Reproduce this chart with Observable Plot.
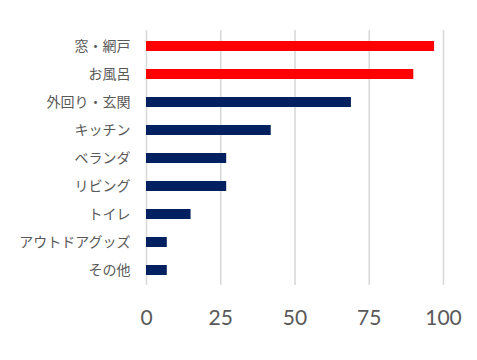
<!DOCTYPE html>
<html>
<head>
<meta charset="utf-8">
<script src="https://cdn.jsdelivr.net/npm/d3@7"></script>
<script src="https://cdn.jsdelivr.net/npm/@observablehq/plot@0.6"></script>
<style>
  html, body { margin: 0; padding: 0; background: #fff; }
</style>
</head>
<body>
<div id="chart"></div>
<script>
const categories = ["窓・網戸", "お風呂", "外回り・玄関", "キッチン", "ベランダ", "リビング", "トイレ", "アウトドアグッズ", "その他"];
const values = [97, 90, 69, 42, 27, 27, 15, 7, 7];
const highlighted = ["窓・網戸", "お風呂"];
const xTicks = [0, 25, 50, 75, 100];

const data = categories.map((c, i) => ({
  category: c,
  value: values[i],
  group: highlighted.includes(c) ? "highlight" : "normal"
}));

const chart = Plot.plot({
  width: 477,
  height: 360,
  marginLeft: 146,
  marginRight: 34,
  marginTop: 30,
  marginBottom: 75,
  style: { background: "#fff", overflow: "visible" },
  x: { domain: [0, 100], ticks: xTicks, label: null },
  y: { domain: categories, paddingInner: 0.65, paddingOuter: 0.325, label: null },
  color: { domain: ["highlight", "normal"], range: ["#ff0000", "#002060"] },
  marks: [
    Plot.gridX(xTicks, { stroke: "#d9d9d9", strokeOpacity: 1, strokeWidth: 1.6 }),
    Plot.barX(data, { x: "value", y: "category", fill: "group" }),
    Plot.axisX({
      ticks: xTicks,
      tickSize: 0,
      tickPadding: 25,
      fontSize: 21,
      fontFamily: "Lato, 'Open Sans', sans-serif",
      fill: "#595959",
      label: null
    }),
    Plot.axisY({
      tickSize: 0,
      tickPadding: 16,
      fontSize: 14,
      fontFamily: "'Noto Sans CJK JP', sans-serif",
      fill: "#595959",
      label: null
    })
  ]
});
document.getElementById("chart").appendChild(chart);
</script>
</body>
</html>
